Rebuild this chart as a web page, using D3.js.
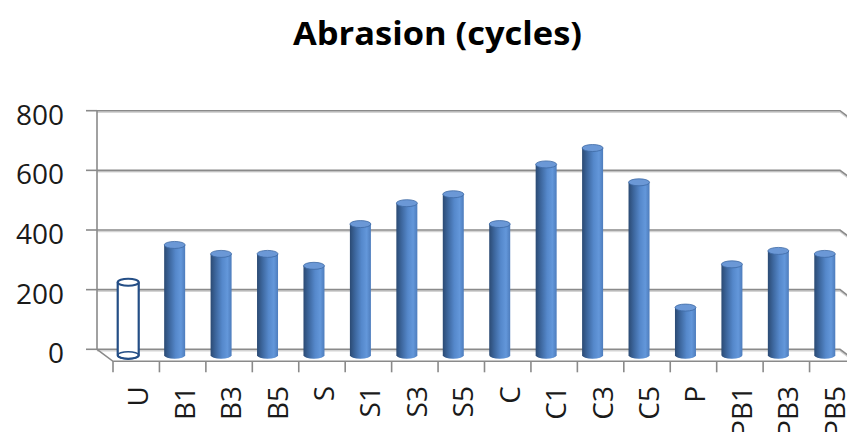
<!DOCTYPE html>
<html>
<head>
<meta charset="utf-8">
<script src="https://cdn.jsdelivr.net/npm/d3@7"></script>
<style>
  html, body { margin: 0; padding: 0; background: #fff; }
  svg { display: block; }
</style>
</head>
<body>
<svg id="chart" width="847" height="432"></svg>
<script>
const categories = ["U","B1","B3","B5","S","S1","S3","S5","C","C1","C3","C5","P","PB1","PB3","PB5"];
const values = [245, 370, 340, 340, 300, 440, 510, 540, 440, 640, 695, 580, 160, 305, 350, 340];
const yTicks = [0, 200, 400, 600, 800];
const title = "Abrasion (cycles)";

const svg = d3.select("#chart");
const W = 847, H = 432;

// geometry of the 3D plot (back wall + depth offset)
const backLeft = 97, backRight = 840;
const depthX = 16, depthY = 12;
const y = d3.scaleLinear().domain([0, 800]).range([349.3, 110.7]);
const x = d3.scaleBand().domain(categories).range([backLeft, backRight]).padding(0);

const defs = svg.append("defs");
const grad = defs.append("linearGradient").attr("id", "cyl").attr("x1", 0).attr("x2", 1).attr("y1", 0).attr("y2", 0);
[[0, "#2b4a73"], [0.25, "#3d679e"], [0.55, "#5588cb"], [0.8, "#6397da"], [1, "#4d7cbc"]]
  .forEach(([o, c]) => grad.append("stop").attr("offset", o).attr("stop-color", c));

// title
svg.append("text")
  .attr("x", 437.5).attr("y", 45)
  .attr("text-anchor", "middle")
  .attr("font-family", "'Open Sans', 'Liberation Sans', sans-serif")
  .attr("font-weight", "bold")
  .attr("font-size", 33)
  .attr("textLength", 289)
  .attr("lengthAdjust", "spacingAndGlyphs")
  .attr("fill", "#000")
  .text(title);

const grid = svg.append("g");
// gridlines on back wall, bending to right side wall
yTicks.forEach(t => {
  const yy = y(t);
  grid.append("path")
    .attr("d", `M${backLeft},${yy + 1.5}L${backRight},${yy + 1.5}L${backRight + depthX},${yy + depthY + 1.5}`)
    .attr("fill", "none").attr("stroke", "#d4d4d4").attr("stroke-width", 1.5);
  grid.append("path")
    .attr("d", `M${backLeft},${yy}L${backRight},${yy}L${backRight + depthX},${yy + depthY}`)
    .attr("fill", "none").attr("stroke", "#8a8a8a").attr("stroke-width", 1.6);
  // tick on the left
  grid.append("line")
    .attr("x1", 86).attr("x2", backLeft).attr("y1", yy).attr("y2", yy)
    .attr("stroke", "#8a8a8a").attr("stroke-width", 1.6);
});
// vertical axis line on back wall
grid.append("line")
  .attr("x1", backLeft).attr("x2", backLeft).attr("y1", y(800)).attr("y2", y(0))
  .attr("stroke", "#8a8a8a").attr("stroke-width", 1.6);
// floor: left diagonal and front edge
const frontY = y(0) + depthY;
grid.append("path")
  .attr("d", `M${backLeft},${y(0)}L${backLeft + depthX},${frontY}L${backRight + depthX},${frontY}`)
  .attr("fill", "none").attr("stroke", "#8a8a8a").attr("stroke-width", 1.6);
// category ticks along front edge
const edges = categories.map(c => x(c)).concat([backRight]);
edges.forEach(e => {
  grid.append("line")
    .attr("x1", e + depthX).attr("x2", e + depthX)
    .attr("y1", frontY).attr("y2", frontY + 11)
    .attr("stroke", "#8a8a8a").attr("stroke-width", 1.6);
});

// y labels
svg.append("g").selectAll("text").data(yTicks).join("text")
  .attr("x", 64).attr("y", d => y(d) + 3)
  .attr("text-anchor", "end")
  .attr("dominant-baseline", "central")
  .attr("font-family", "'Open Sans', 'Liberation Sans', sans-serif")
  .attr("font-size", 28)
  .attr("fill", "#1a1a1a")
  .text(d => d);

// x labels (rotated)
svg.append("g").selectAll("text").data(categories).join("text")
  .attr("transform", d => `translate(${x(d) + x.bandwidth() / 2 + depthX + 1},386) rotate(-90)`)
  .attr("text-anchor", "end")
  .attr("dominant-baseline", "central")
  .attr("font-family", "'Open Sans', 'Liberation Sans', sans-serif")
  .attr("font-size", 28)
  .attr("fill", "#1a1a1a")
  .text(d => d);

// cylinders at mid depth
const r = 10.5, ry = 3.5;
const bars = svg.append("g");
categories.forEach((c, i) => {
  const cx = x(c) + x.bandwidth() / 2 + depthX / 2;
  const base = y(0) + depthY / 2;
  const top = y(values[i]) + depthY / 2;
  const g = bars.append("g");
  if (i === 0) {
    // outlined (unfilled) cylinder
    const st = "#244e86";
    g.append("path")
      .attr("d", `M${cx - r},${top}L${cx - r},${base}A${r},${ry} 0 0 0 ${cx + r},${base}L${cx + r},${top}`)
      .attr("fill", "#fff").attr("stroke", st).attr("stroke-width", 2.2);
    g.append("ellipse").attr("cx", cx).attr("cy", base).attr("rx", r).attr("ry", ry)
      .attr("fill", "none").attr("stroke", st).attr("stroke-width", 1.6);
    g.append("ellipse").attr("cx", cx).attr("cy", top).attr("rx", r).attr("ry", ry)
      .attr("fill", "#fff").attr("stroke", st).attr("stroke-width", 2.2);
  } else {
    g.append("path")
      .attr("d", `M${cx - r},${top}L${cx - r},${base}A${r},${ry} 0 0 0 ${cx + r},${base}L${cx + r},${top}Z`)
      .attr("fill", "url(#cyl)");
    g.append("ellipse").attr("cx", cx).attr("cy", top).attr("rx", r).attr("ry", ry)
      .attr("fill", "#6b98d6").attr("stroke", "#3e6aa4").attr("stroke-width", 0.8);
  }
});
</script>
</body>
</html>
